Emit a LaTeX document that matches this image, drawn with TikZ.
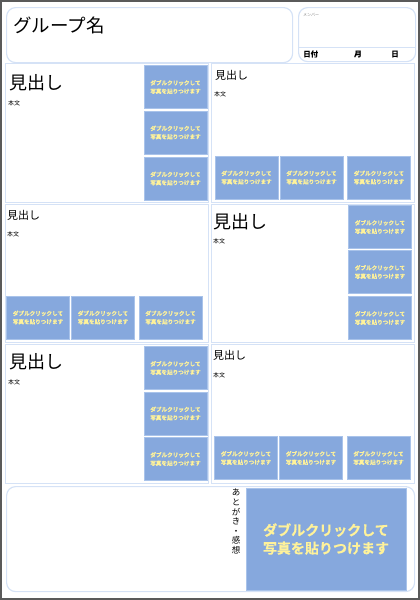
\documentclass[tikz,border=0pt]{standalone}
\usepackage{fontspec}
\setmainfont{Noto Sans CJK JP}
\newfontfamily\photofont{Noto Sans CJK JP Bold}[FakeBold=0.6]
\definecolor{photoblue}{HTML}{86A8DD}
\definecolor{photoedge}{HTML}{A9C3EA}
\definecolor{photoink}{HTML}{FFF29A}
\definecolor{frameblue}{HTML}{D5E2F6}
\definecolor{pagegray}{HTML}{5A5A5A}
\newcommand{\phototext}{ダブルクリックして\\写真を貼りつけます}
\begin{document}
\begin{tikzpicture}[x=1pt,y=-1pt,
    panel/.style={draw=frameblue,line width=1.4pt,inner sep=0pt,anchor=north west},
    roundbox/.style={draw=frameblue,line width=1.2pt,rounded corners=9pt,inner sep=0pt,anchor=north west},
    photo/.style={fill=photoblue,draw=photoedge,line width=0.6pt,text=photoink,align=center,inner sep=0pt,
        font=\photofont\fontsize{5.6}{8.3}\selectfont,minimum width=63pt,minimum height=43pt},
    big head/.style={anchor=west,inner sep=0pt,font=\fontsize{18}{20}\selectfont},
    small head/.style={anchor=west,inner sep=0pt,font=\fontsize{11}{13}\selectfont},
    body/.style={anchor=west,inner sep=0pt,font=\fontsize{6}{7}\selectfont}]
                \useasboundingbox (0,0) rectangle (420,600);
                \draw[pagegray,line width=2pt] (1,1) rectangle (419,599);

                % header
                \node[roundbox,minimum width=286pt,minimum height=55pt] at (6,7) (group) {};
                \node[big head,font=\fontsize{18.5}{20}\selectfont] at (13,25) (grouptitle) {グループ名};
                \node[roundbox,minimum width=117pt,minimum height=54pt] at (298,7) (member) {};
                \draw[frameblue,line width=1.2pt] ([yshift=15pt]member.south west) -- ([yshift=15pt]member.south east);
                \node[anchor=west,inner sep=0pt,text=gray,font=\fontsize{4}{5}\selectfont] at (303,15) (membertitle) {メンバー};
                \node[anchor=west,inner sep=0pt,font=\photofont\fontsize{7.5}{9}\selectfont] at (303,54) (date) {日付};
                \node[anchor=west,inner sep=0pt,font=\photofont\fontsize{7.5}{9}\selectfont] at (354,54) (month) {月};
                \node[anchor=west,inner sep=0pt,font=\photofont\fontsize{7.5}{9}\selectfont] at (391,54) (day) {日};

                % row 1
                \node[panel,minimum width=203pt,minimum height=139pt] at (5,63) (p1l) {};
                \node[panel,minimum width=203pt,minimum height=139pt] at (211,63) (p1r) {};
                \node[big head] at (9,83) (h1l) {見出し};
                \node[body] at (8,103) (b1l) {本文};
                \node[photo] at (175.5,87) (f1a) {\phototext};
                \node[photo] at (175.5,132.5) (f1b) {\phototext};
                \node[photo] at (175.5,178.5) (f1c) {\phototext};
                \node[small head] at (215,75) (h1r) {見出し};
                \node[body] at (214,94) (b1r) {本文};
                \node[photo] at (246.5,177.5) (f1d) {\phototext};
                \node[photo] at (311.5,177.5) (f1e) {\phototext};
                \node[photo] at (379,177.5) (f1f) {\phototext};

                % row 2
                \node[panel,minimum width=203pt,minimum height=138pt] at (5,204) (p2l) {};
                \node[panel,minimum width=203pt,minimum height=138pt] at (211,204) (p2r) {};
                \node[small head] at (7,215) (h2l) {見出し};
                \node[body] at (7,234) (b2l) {本文};
                \node[photo] at (38,317.5) (f2a) {\phototext};
                \node[photo] at (103,317.5) (f2b) {\phototext};
                \node[photo] at (170.5,317.5) (f2c) {\phototext};
                \node[big head] at (213,222) (h2r) {見出し};
                \node[body] at (213,241) (b2r) {本文};
                \node[photo] at (380,227) (f2d) {\phototext};
                \node[photo] at (380,272) (f2e) {\phototext};
                \node[photo] at (380,318) (f2f) {\phototext};

                % row 3
                \node[panel,minimum width=203pt,minimum height=139pt] at (5,344) (p3l) {};
                \node[panel,minimum width=203pt,minimum height=139pt] at (211,344) (p3r) {};
                \node[big head] at (9,362) (h3l) {見出し};
                \node[body] at (8,382) (b3l) {本文};
                \node[photo] at (175.5,368) (f3a) {\phototext};
                \node[photo] at (175.5,413.5) (f3b) {\phototext};
                \node[photo] at (175.5,459) (f3c) {\phototext};
                \node[small head] at (213,355) (h3r) {見出し};
                \node[body] at (213,375) (b3r) {本文};
                \node[photo] at (246,458) (f3d) {\phototext};
                \node[photo] at (311,458) (f3e) {\phototext};
                \node[photo] at (378.5,458) (f3f) {\phototext};

                % afterword
                \node[roundbox,minimum width=408pt,minimum height=105pt] at (6,486) (afterword) {};
                \node[anchor=north,inner sep=0pt,align=center,font=\fontsize{8.5}{9.6}\selectfont] at (236,489) (aftertitle) {あ\\と\\が\\き\\・\\感\\想};
                \node[photo,minimum width=160pt,minimum height=102pt,font=\photofont\fontsize{14}{18}\selectfont] at (326,539) (bigphoto) {\phototext};
            \end{tikzpicture}
\end{document}
